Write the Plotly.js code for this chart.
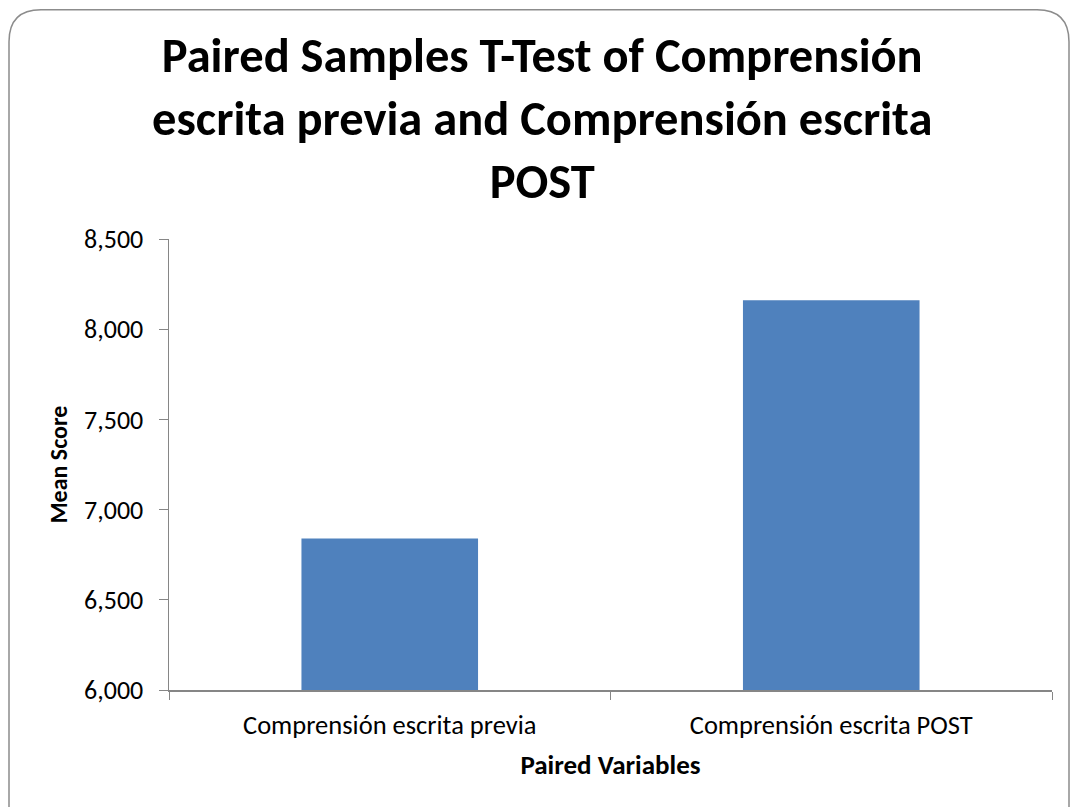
<!DOCTYPE html>
<html>
<head>
<meta charset="utf-8">
<script src="https://cdn.plot.ly/plotly-3.0.1.min.js"></script>
<style>html,body{margin:0;padding:0;background:#fff;}#chart{width:1078px;height:807px;}</style>
</head>
<body>
<div id="chart"></div>
<script>
const categories = ["Comprensión escrita previa", "Comprensión escrita POST"];
const meanScores = [6840, 8160];
const yTickValues = [6000, 6500, 7000, 7500, 8000, 8500];
const yTickLabels = ["6,000", "6,500", "7,000", "7,500", "8,000", "8,500"];

const W = 1078, H = 807;
const m = {l: 169, r: 26, t: 238.5, b: 117};
const pw = W - m.l - m.r, ph = H - m.t - m.b;
function px(x) { return (x - m.l) / pw; }
function py(y) { return (H - m.b - y) / ph; }
// rounded border frame
const L = 9, T = 9, R = 1069, B = 830, rad = 32;
const framePath = `M ${px(L)},${py(B)} L ${px(L)},${py(T + rad)} Q ${px(L)},${py(T)} ${px(L + rad)},${py(T)} L ${px(R - rad)},${py(T)} Q ${px(R)},${py(T)} ${px(R)},${py(T + rad)} L ${px(R)},${py(B)}`;

const font = "Carlito, Calibri, 'Open Sans', 'Noto Sans', sans-serif";

Plotly.newPlot('chart', [{
  type: 'bar',
  x: categories,
  y: meanScores,
  marker: {color: '#4F81BD', line: {width: 0}},
  hoverinfo: 'x+y'
}], {
  width: W, height: H,
  margin: m,
  paper_bgcolor: '#fff', plot_bgcolor: '#fff',
  bargap: 0.6,
  showlegend: false,
  font: {family: font, color: '#000'},
  title: {
    text: '<b>Paired Samples T-Test of Comprensión<br>escrita previa and Comprensión escrita<br>POST</b>',
    x: 0.503, xref: 'container', xanchor: 'center',
    y: 0.911, yanchor: 'top', yref: 'container',
    font: {size: 48.5, family: font, color: '#000'}
  },
  xaxis: {
    type: 'category',
    showline: true, linecolor: '#868686', linewidth: 1.5,
    ticks: 'outside', tickson: 'boundaries', ticklen: 8, tickcolor: '#868686',
    ticklabelstandoff: 11,
    tickfont: {size: 26.5, family: font, color: '#000'},
    showgrid: false, zeroline: false,
    title: {text: '<b>Paired Variables</b>', font: {size: 27, family: font, color: '#000'}, standoff: 15}
  },
  yaxis: {
    range: [6000, 8500],
    tickvals: yTickValues, ticktext: yTickLabels,
    showline: true, linecolor: '#868686', linewidth: 1.5,
    ticks: 'outside', ticklen: 9, tickcolor: '#868686',
    ticklabelstandoff: 10,
    tickfont: {size: 26, family: font, color: '#000'},
    showgrid: false, zeroline: false,
    title: {text: '<b>Mean Score</b>', font: {size: 24, family: font, color: '#000'}, standoff: 9}
  },
  shapes: [{
    type: 'path', xref: 'paper', yref: 'paper', path: framePath,
    line: {color: '#8c8c8c', width: 1.5}, fillcolor: 'rgba(0,0,0,0)', layer: 'above'
  }]
}, {displayModeBar: false, staticPlot: true});
</script>
</body>
</html>
